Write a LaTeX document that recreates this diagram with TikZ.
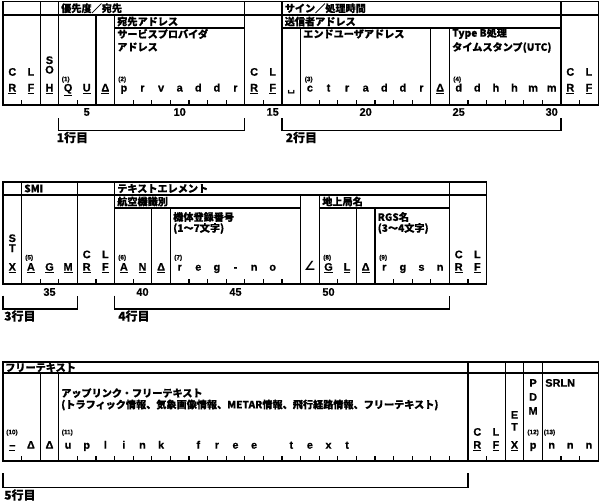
\documentclass[tikz,border=0pt]{standalone}
\usepackage{fontspec}
\setmainfont{Liberation Sans}[BoldFeatures={FakeBold=0.6}]
\newfontfamily\jp{Noto Sans CJK JP}[BoldFeatures={FakeBold=0.5}]
\newfontfamily\djv{DejaVu Sans}
\def\xo{3}
\def\uu{18.6}
\tikzset{
 gl/.style={line width=1pt},
 ch/.style={font=\bfseries\fontsize{8.2}{8.5}\selectfont, inner sep=0pt, anchor=base},
 sm/.style={font=\bfseries\fontsize{4.8}{5}\selectfont, inner sep=0pt, anchor=base west},
 jt/.style={font=\jp\bfseries\fontsize{7.6}{8}\selectfont, inner sep=0pt, anchor=west},
 num/.style={font=\bfseries\fontsize{8.2}{8.5}\selectfont, inner sep=0pt},
 brl/.style={font=\jp\bfseries\fontsize{9}{9}\selectfont, inner sep=0pt, anchor=west},
}
\newcommand\cc[4]{\node[ch] (#1) at ({\xo+(#2-0.5)*\uu},#3) {#4};}
\begin{document}
\begin{tikzpicture}[x=0.75pt,y=-0.75pt]
\useasboundingbox (0,0) rectangle (600,500);
% ================= Row 1 grid =================
\draw[gl] (\xo,1.5) rectangle ({\xo+32*\uu},105);
\draw[gl] (\xo,15) -- ({\xo+32*\uu},15);
\foreach \k in {2,3,13,15,30} \draw[gl] ({\xo+\k*\uu},1.5) -- ({\xo+\k*\uu},105);
\foreach \k in {5,6} \draw[gl] ({\xo+\k*\uu},15) -- ({\xo+\k*\uu},105);
\draw[gl] ({\xo+6*\uu},28) -- ({\xo+13*\uu},28);
\draw[gl] ({\xo+15*\uu},28) -- ({\xo+30*\uu},28);
\foreach \k in {16,23,24} \draw[gl] ({\xo+\k*\uu},28) -- ({\xo+\k*\uu},105);
\foreach \k in {1,4,7,8,9,10,11,12,14,17,18,19,20,21,22,25,26,27,28,29,31}
  \draw[gl] ({\xo+\k*\uu},105) -- ++(0,-5);
% Row 1 headers
\node[jt] (h1) at (61,8.3) {優先度／宛先};
\node[jt] (h2) at (117,21.5) {宛先アドレス};
\node[jt] (h3) at (117,34) {サービスプロバイダ};
\node[jt] (h4) at (117,47) {アドレス};
\node[jt] (h5) at (284.5,8.3) {サイン／処理時間};
\node[jt] (h6) at (284.5,21.5) {送信者アドレス};
\node[jt] (h7) at (303,34) {エンドユーザアドレス};
\node[jt] (h8) at (452,33.5) {Type B処理};
\node[jt] (h9) at (452,47.5) {タイムスタンプ(UTC)};
% Row 1 characters
\cc{a1}{1}{75.7}{C} \cc{a2}{1}{91.5}{\underline{R}}
\cc{a3}{2}{75.7}{L} \cc{a4}{2}{91.5}{\underline{F}}
\cc{a5}{3}{64}{S} \cc{a6}{3}{73.5}{O} \cc{a7}{3}{91.5}{\underline{H}}
\cc{a8}{4}{91.5}{\underline{Q}} \cc{a9}{5}{91.5}{\underline{U}}
\cc{a10}{6}{91.5}{\underline{Δ}}
\foreach \t [count=\i from 7] in {p,r,v,a,d,d,r} {\cc{p\i}{\i}{91.5}{\t}}
\cc{a11}{14}{75.7}{C} \cc{a12}{14}{91.5}{\underline{R}}
\cc{a13}{15}{75.7}{L} \cc{a14}{15}{91.5}{\underline{F}}
\cc{a15}{16}{91.5}{{\djv ␣}}
\foreach \t [count=\i from 17] in {c,t,r,a,d,d,r} {\cc{q\i}{\i}{91.5}{\t}}
\cc{a16}{24}{91.5}{\underline{Δ}}
\foreach \t [count=\i from 25] in {d,d,h,h,m,m} {\cc{s\i}{\i}{91.5}{\t}}
\cc{a17}{31}{75.7}{C} \cc{a18}{31}{91.5}{\underline{R}}
\cc{a19}{32}{75.7}{L} \cc{a20}{32}{91.5}{\underline{F}}
\node[sm] (n1) at (61.5,81.2) {(1)};
\node[sm] (n2) at (118,81.2) {(2)};
\node[sm] (n3) at (304.5,81.2) {(3)};
\node[sm] (n4) at (453,81.2) {(4)};
% Row 1 numbers
\foreach \c/\v in {5/5,10/10,15/15,20/20,25/25,30/30}
  \node[num] (m\v) at ({\xo+(\c-0.5)*\uu},112) {\v};
% Row 1 brackets
\coordinate (k1a) at ({\xo+3*\uu},118);
\coordinate (k1b) at ({\xo+13*\uu},118);
\draw[gl] (k1a) -- ++(0,12.7) -| (k1b);
\node[brl] (l1) at (56.5,137.5) {1行目};
\coordinate (k2a) at ({\xo+15*\uu},118);
\coordinate (k2b) at ({\xo+30*\uu},118);
\draw[gl] (k2a) -- ++(0,12.7) -| (k2b);
\node[brl] (l2) at (285.5,137.5) {2行目};
% ================= Row 2 grid =================
\draw[gl] (\xo,182) rectangle ({\xo+26*\uu},284);
\draw[gl] (\xo,195) -- ({\xo+26*\uu},195);
\foreach \k in {1,4,6,24} \draw[gl] ({\xo+\k*\uu},182) -- ({\xo+\k*\uu},284);
\foreach \k in {16,17} \draw[gl] ({\xo+\k*\uu},195) -- ({\xo+\k*\uu},284);
\draw[gl] ({\xo+6*\uu},208) -- ({\xo+16*\uu},208);
\draw[gl] ({\xo+17*\uu},208) -- ({\xo+24*\uu},208);
\foreach \k in {8,9,19,20} \draw[gl] ({\xo+\k*\uu},208) -- ({\xo+\k*\uu},284);
\foreach \k in {2,3,5,7,10,11,12,13,14,15,18,21,22,23,25}
  \draw[gl] ({\xo+\k*\uu},284) -- ++(0,-5);
% Row 2 headers
\node[jt] (g1) at (24,188.5) {SMI};
\node[jt] (g2) at (117,188.5) {テキストエレメント};
\node[jt] (g3) at (117,201.5) {航空機識別};
\node[jt] (g4) at (173,217) {機体登録番号};
\node[jt] (g5) at (173,228.5) {(1～7文字)};
\node[jt] (g6) at (322,201.5) {地上局名};
\node[jt] (g7) at (377.5,217) {RGS名};
\node[jt] (g8) at (377.5,228.5) {(3～4文字)};
% Row 2 characters
\cc{b1}{1}{242}{S} \cc{b2}{1}{252}{T} \cc{b3}{1}{270.7}{\underline{X}}
\cc{b4}{2}{270.7}{\underline{A}} \cc{b5}{3}{270.7}{\underline{G}} \cc{b6}{4}{270.7}{\underline{M}}
\cc{b7}{5}{258.2}{C} \cc{b8}{5}{270.7}{\underline{R}}
\cc{b9}{6}{258.2}{L} \cc{b10}{6}{270.7}{\underline{F}}
\cc{b11}{7}{270.7}{\underline{A}} \cc{b12}{8}{270.7}{\underline{N}}
\cc{b13}{9}{270.7}{\underline{Δ}}
\foreach \t [count=\i from 10] in {r,e,g,-,n,o} {\cc{r\i}{\i}{270.7}{\t}}
\cc{b14}{17}{270.7}{{\djv\fontsize{9.5}{10}\selectfont ∠}}
\cc{b15}{18}{270.7}{\underline{G}} \cc{b16}{19}{270.7}{\underline{L}}
\cc{b17}{20}{270.7}{\underline{Δ}}
\foreach \t [count=\i from 21] in {r,g,s,n} {\cc{t\i}{\i}{270.7}{\t}}
\cc{b18}{25}{258.2}{C} \cc{b19}{25}{270.7}{\underline{R}}
\cc{b20}{26}{258.2}{L} \cc{b21}{26}{270.7}{\underline{F}}
\node[sm] (n5) at (25,259.5) {(5)};
\node[sm] (n6) at (118,259.5) {(6)};
\node[sm] (n7) at (174,259.5) {(7)};
\node[sm] (n8) at (323,259.5) {(8)};
\node[sm] (n9) at (379,259.5) {(9)};
% Row 2 numbers
\foreach \c/\v in {3/35,8/40,13/45,18/50}
  \node[num] (m\v) at ({\xo+(\c-0.5)*\uu},292) {\v};
% Row 2 brackets
\coordinate (k3a) at (\xo,295.5);
\coordinate (k3b) at ({\xo+4*\uu},295.5);
\draw[gl] (k3a) -- ++(0,13.5) -| (k3b);
\node[brl] (l3) at (4,316) {3行目};
\coordinate (k4a) at ({\xo+6*\uu},295.5);
\coordinate (k4b) at ({\xo+24*\uu},295.5);
\draw[gl] (k4a) -- ++(0,13.5) -| (k4b);
\node[brl] (l4) at (118,316) {4行目};
% ================= Row 3 grid =================
\draw[gl] (\xo,362) rectangle ({\xo+32*\uu},461);
\draw[gl] (\xo,373) -- ({\xo+32*\uu},373);
\foreach \k in {25,27,28,29} \draw[gl] ({\xo+\k*\uu},362) -- ({\xo+\k*\uu},461);
\foreach \k in {2,3} \draw[gl] ({\xo+\k*\uu},373) -- ({\xo+\k*\uu},461);
\foreach \k in {1,4,5,6,7,8,9,10,11,12,13,14,15,16,17,18,19,20,21,22,23,24,26,30,31}
  \draw[gl] ({\xo+\k*\uu},461) -- ++(0,-5);
% Row 3 headers
\node[jt] (f1) at (5,367.5) {フリーテキスト};
\node[jt] (f2) at (61,393) {アップリンク・フリーテキスト};
\node[jt] (f3) at (61,405) {(トラフィック情報、気象画像情報、METAR情報、飛行経路情報、フリーテキスト)};
% Row 3 characters
\cc{c1}{1}{448.7}{\underline{–}}
\cc{c2}{2}{448.7}{Δ}
\cc{c3}{3}{448.7}{Δ}
\foreach \t/\i in {u/4,p/5,l/6,i/7,n/8,k/9,f/11,r/12,e/13,e/14,t/16,e/17,x/18,t/19} {\cc{u\i}{\i}{448.7}{\t}}
\cc{c4}{26}{435.7}{C} \cc{c5}{26}{448.7}{\underline{R}}
\cc{c6}{27}{435.7}{L} \cc{c7}{27}{448.7}{\underline{F}}
\cc{c8}{28}{418.7}{E} \cc{c9}{28}{430.7}{T} \cc{c10}{28}{448.7}{\underline{X}}
\cc{c11}{29}{386.7}{P} \cc{c12}{29}{400.7}{D} \cc{c13}{29}{414.7}{M}
\cc{c14}{29}{448.7}{p}
\foreach \i in {30,31,32} {\cc{v\i}{\i}{448.7}{n}}
\node[ch, anchor=base west] (c15) at (545,386.7) {SRLN};
\node[sm] (n10) at (6,434.2) {(10)};
\node[sm] (n11) at (61.5,434.2) {(11)};
\node[sm, anchor=base] (n12) at ({\xo+28.5*\uu},434.2) {(12)};
\node[sm] (n13) at (543.5,434.2) {(13)};
% Row 3 bracket
\coordinate (k5a) at (\xo,473);
\coordinate (k5b) at ({\xo+25*\uu},473);
\draw[gl] (k5a) -- ++(0,14.3) -| (k5b);
\node[brl] (l5) at (4,495) {5行目};
\end{tikzpicture}
\end{document}
